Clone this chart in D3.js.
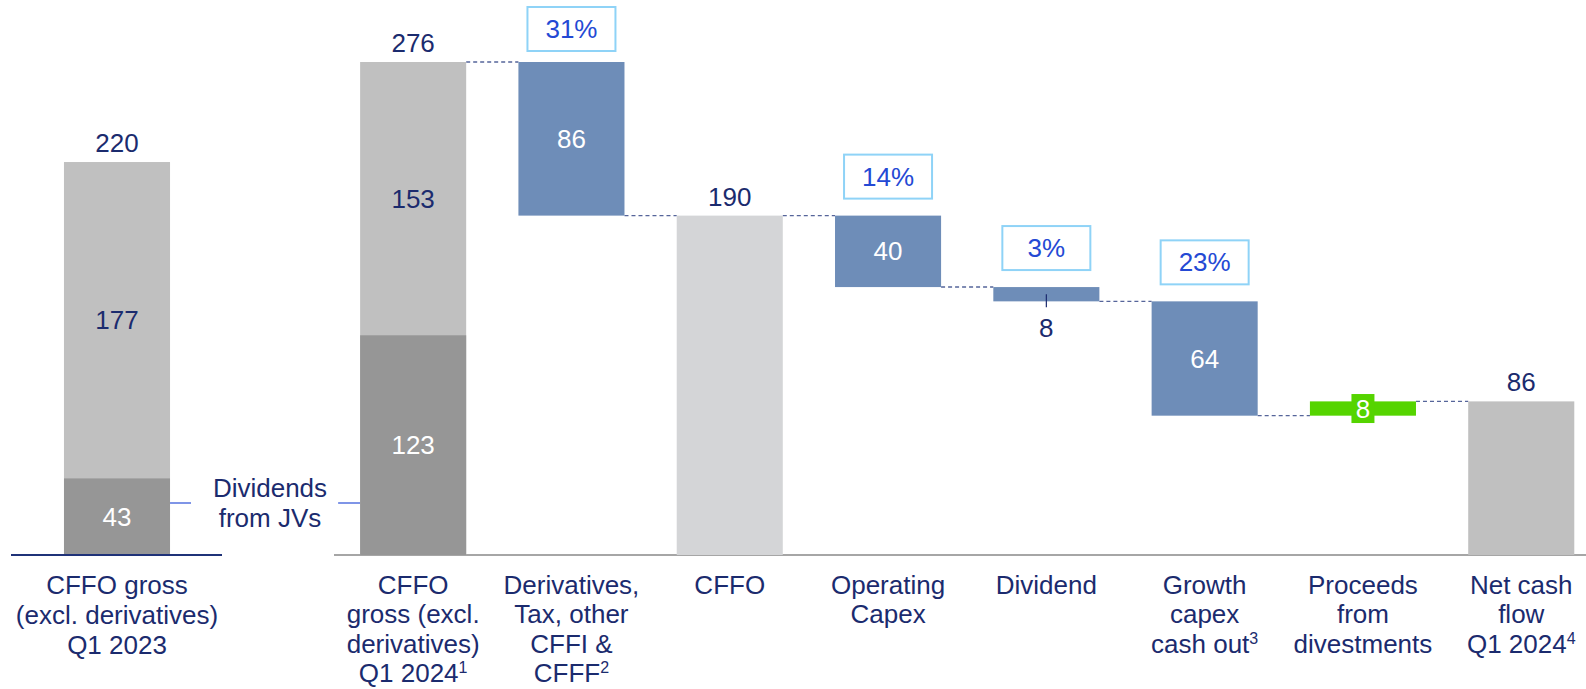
<!DOCTYPE html>
<html>
<head>
<meta charset="utf-8">
<script src="https://cdn.jsdelivr.net/npm/d3@7"></script>
<style>
  body { margin: 0; background: #fff; }
  svg { display: block; font-family: "Liberation Sans", Arial, sans-serif; }
</style>
</head>
<body>
<div id="chart"></div>
<script>
// ---- data ----
var prevLines = ["CFFO gross", "(excl. derivatives)", "Q1 2023"];
var prevTotal = 220;
var prevJV = 43;

var categories = ["gross24", "deriv", "cffo", "opcapex", "dividend", "growth", "divest", "net"];
var catLines = [
  ["CFFO", "gross (excl.", "derivatives)", "Q1 2024"],
  ["Derivatives,", "Tax, other", "CFFI &", "CFFF"],
  ["CFFO"],
  ["Operating", "Capex"],
  ["Dividend"],
  ["Growth", "capex", "cash out"],
  ["Proceeds", "from", "divestments"],
  ["Net cash", "flow", "Q1 2024"]
];
var catSup = ["1", "2", "", "", "", "3", "", "4"];
var changes = [276, -86, 190, -40, -8, -64, 8, 86];
var kinds = ["total", "down", "total", "down", "down", "down", "up", "total"];
var shares = ["", "31%", "", "14%", "3%", "23%", "", ""];
var jv24 = 123;

// ---- layout ----
var svgWidth = 1586, svgHeight = 689;
var baseY = 555;
var navy = "#1b2b6e";
var fs = 26;

var svg = d3.select("#chart").append("svg")
  .attr("width", svgWidth)
  .attr("height", svgHeight);

var y = d3.scaleLinear().domain([0, 276]).range([baseY, 62]);

var x = d3.scaleBand()
  .domain(categories)
  .range([334, 1600.4])
  .paddingInner(0.33)
  .paddingOuter(0.165);

var xPrev = d3.scaleBand()
  .domain(["prev"])
  .range([37.85, 196.15])
  .paddingInner(0.33)
  .paddingOuter(0.165);

// running waterfall levels
var rows = [];
var level = 0;
changes.forEach(function(v, i) {
  var lo, hi;
  if (kinds[i] == "total") { lo = 0; hi = v; level = v; }
  else if (kinds[i] == "down") { hi = level; lo = level + v; level = lo; }
  else { lo = level; hi = level + v; level = hi; }
  rows.push({key: categories[i], lo: lo, hi: hi, val: Math.abs(v), kind: kinds[i], share: shares[i], i: i});
});

// ---- left chart (Q1 2023) ----
var pg = svg.append("g");
var pw = xPrev.bandwidth(), px = xPrev("prev");
pg.append("rect").attr("x", px).attr("width", pw)
  .attr("y", y(prevTotal)).attr("height", y(prevJV) - y(prevTotal))
  .attr("fill", "#c0c0c0");
pg.append("rect").attr("x", px).attr("width", pw)
  .attr("y", y(prevJV)).attr("height", baseY - y(prevJV))
  .attr("fill", "#969696");
pg.append("text").attr("x", px + pw / 2).attr("y", (y(prevTotal) + y(prevJV)) / 2 + 9)
  .attr("text-anchor", "middle").attr("font-size", fs).attr("fill", navy).text(prevTotal - prevJV);
pg.append("text").attr("x", px + pw / 2).attr("y", (y(prevJV) + baseY) / 2 + 9)
  .attr("text-anchor", "middle").attr("font-size", fs).attr("fill", "#fff").text(prevJV);
pg.append("text").attr("x", px + pw / 2).attr("y", y(prevTotal) - 10)
  .attr("text-anchor", "middle").attr("font-size", fs).attr("fill", navy).text(prevTotal);
pg.append("line").attr("x1", 11).attr("x2", 222).attr("y1", baseY).attr("y2", baseY)
  .attr("stroke", "#1f3278").attr("stroke-width", 2);
pg.append("text").attr("text-anchor", "middle").attr("font-size", fs).attr("fill", navy)
  .selectAll("tspan").data(prevLines).enter().append("tspan")
  .attr("x", px + pw / 2).attr("y", function(d, i) { return 594 + i * 29.8; })
  .text(function(d) { return d; });

// ---- dividends from JVs annotation ----
svg.append("text").attr("text-anchor", "middle").attr("font-size", fs).attr("fill", navy)
  .selectAll("tspan").data(["Dividends", "from JVs"]).enter().append("tspan")
  .attr("x", 270).attr("y", function(d, i) { return 497 + i * 30; })
  .text(function(d) { return d; });
[[px + pw, px + pw + 21], [x("gross24") - 22, x("gross24")]].forEach(function(s) {
  svg.append("line").attr("x1", s[0]).attr("x2", s[1]).attr("y1", 503).attr("y2", 503)
    .attr("stroke", "#2b4fd8").attr("stroke-width", 1.2);
});

// ---- waterfall ----
var g = svg.append("g");
var bw = x.bandwidth();

g.append("line").attr("x1", 334).attr("x2", svgWidth).attr("y1", baseY).attr("y2", baseY)
  .attr("stroke", "#a6a6a6").attr("stroke-width", 2);

// connectors
for (var k = 0; k < rows.length - 1; k++) {
  var r = rows[k];
  var lvl = (r.kind == "down") ? r.lo : r.hi;
  g.append("line")
    .attr("x1", x(r.key) + bw).attr("x2", x(rows[k + 1].key))
    .attr("y1", y(lvl)).attr("y2", y(lvl))
    .attr("stroke", "#56659a").attr("stroke-width", 1.4)
    .attr("stroke-dasharray", "4,3");
}

function barColor(d) {
  if (d.kind == "up") return "#55d400";
  if (d.kind == "down") return "#6e8db8";
  if (d.key == "cffo") return "#d4d5d7";
  return "#c0c0c0";
}

g.selectAll("rect.bar").data(rows).enter().append("rect")
  .attr("class", "bar")
  .attr("x", function(d) { return x(d.key); })
  .attr("width", bw)
  .attr("y", function(d) { return y(d.hi); })
  .attr("height", function(d) { return y(d.lo) - y(d.hi); })
  .attr("fill", barColor);

// JV part of first bar
g.append("rect").attr("x", x("gross24")).attr("width", bw)
  .attr("y", y(jv24)).attr("height", baseY - y(jv24)).attr("fill", "#969696");
g.append("text").attr("x", x("gross24") + bw / 2).attr("y", (y(276) + y(jv24)) / 2 + 9)
  .attr("text-anchor", "middle").attr("font-size", fs).attr("fill", navy).text(276 - jv24);
g.append("text").attr("x", x("gross24") + bw / 2).attr("y", (y(jv24) + baseY) / 2 + 9)
  .attr("text-anchor", "middle").attr("font-size", fs).attr("fill", "#fff").text(jv24);

// value labels
rows.forEach(function(d) {
  var cx = x(d.key) + bw / 2;
  if (d.kind == "total") {
    g.append("text").attr("x", cx).attr("y", y(d.hi) - 10)
      .attr("text-anchor", "middle").attr("font-size", fs).attr("fill", navy).text(d.val);
  } else if (d.kind == "up") {
    var cy = (y(d.lo) + y(d.hi)) / 2;
    g.append("rect").attr("x", cx - 11.5).attr("y", cy - 14.5).attr("width", 23).attr("height", 29)
      .attr("fill", "#55d400");
    g.append("text").attr("x", cx).attr("y", cy + 9)
      .attr("text-anchor", "middle").attr("font-size", fs).attr("fill", "#fff").text(d.val);
  } else if (y(d.lo) - y(d.hi) < 30) {
    var mid = (y(d.lo) + y(d.hi)) / 2;
    g.append("line").attr("x1", cx).attr("x2", cx).attr("y1", mid).attr("y2", y(d.lo) + 6)
      .attr("stroke", navy).attr("stroke-width", 1.2);
    g.append("text").attr("x", cx).attr("y", y(d.lo) + 36)
      .attr("text-anchor", "middle").attr("font-size", fs).attr("fill", navy).text(d.val);
  } else {
    g.append("text").attr("x", cx).attr("y", (y(d.lo) + y(d.hi)) / 2 + 9)
      .attr("text-anchor", "middle").attr("font-size", fs).attr("fill", "#fff").text(d.val);
  }

  if (d.share) {
    var bottom = y(d.hi) - 17;
    var top = Math.max(7, bottom - 44);
    g.append("rect").attr("x", cx - 44).attr("y", top).attr("width", 88).attr("height", 44)
      .attr("fill", "#fff").attr("stroke", "#8fd3f7").attr("stroke-width", 2);
    g.append("text").attr("x", cx).attr("y", top + 22 + 9)
      .attr("text-anchor", "middle").attr("font-size", fs).attr("fill", "#2449d4").text(d.share);
  }
});

// category labels
categories.forEach(function(c, i) {
  var t = g.append("text").attr("text-anchor", "middle").attr("font-size", fs).attr("fill", navy);
  catLines[i].forEach(function(line, j) {
    t.append("tspan").attr("x", x(c) + bw / 2).attr("y", 594 + j * 29.3).text(line);
  });
  if (catSup[i]) {
    t.append("tspan").attr("font-size", 16).attr("dy", -9).text(catSup[i]);
  }
});
</script>
</body>
</html>
